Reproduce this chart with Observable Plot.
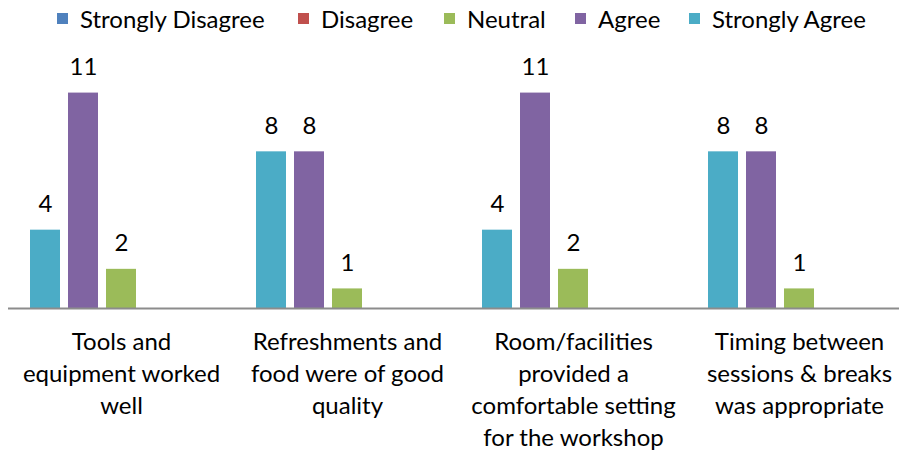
<!DOCTYPE html>
<html>
<head>
<meta charset="utf-8">
<script src="https://cdn.jsdelivr.net/npm/d3@7"></script>
<script src="https://cdn.jsdelivr.net/npm/@observablehq/plot@0.6"></script>
<style>
  html, body { margin: 0; padding: 0; background: #fff; }
  body { width: 899px; height: 458px; overflow: hidden; font-family: Lato, "Open Sans", sans-serif; }
  #legend { position: relative; height: 36px; width: 899px; }
  .item { position: absolute; top: 0; height: 36px; display: flex; align-items: center; font-size: 24px; color: #000; white-space: nowrap; }
  .sw { width: 11px; height: 11px; margin-right: 12px; display: inline-block; }
  #chart { width: 899px; overflow: hidden; }
</style>
</head>
<body>
<div id="legend"></div>
<div id="chart"></div>
<script>
const categories = [
  "Tools and\nequipment worked\nwell",
  "Refreshments and\nfood were of good\nquality",
  "Room/facilities\nprovided a\ncomfortable setting\nfor the workshop",
  "Timing between\nsessions & breaks\nwas appropriate"
];
const responses = ["Strongly Disagree", "Disagree", "Neutral", "Agree", "Strongly Agree"];
const barOrder = ["Strongly Agree", "Agree", "Neutral", "Disagree", "Strongly Disagree"];
const colors = ["#4F81BD", "#C0504D", "#9BBB59", "#8064A2", "#4BACC6"];
const stronglyDisagree = [0, 0, 0, 0];
const disagree = [0, 0, 0, 0];
const neutral = [2, 1, 2, 1];
const agree = [11, 8, 11, 8];
const stronglyAgree = [4, 8, 4, 8];
const legendX = [57, 298, 444, 575, 689];

const series = [stronglyDisagree, disagree, neutral, agree, stronglyAgree];
const data = [];
categories.forEach((c, i) => {
  responses.forEach((r, j) => data.push({category: c, response: r, value: series[j][i]}));
});

// legend
const leg = document.getElementById("legend");
responses.forEach((r, j) => {
  const d = document.createElement("div");
  d.className = "item";
  d.style.left = legendX[j] + "px";
  d.innerHTML = `<span class="sw" style="background:${colors[j]}"></span><span>${r}</span>`;
  leg.appendChild(d);
});

const chart = Plot.plot({
  width: 912,
  height: 422,
  marginLeft: 8,
  marginRight: 0,
  marginTop: 37,
  marginBottom: 150,
  style: {fontFamily: "Lato, 'Open Sans', sans-serif", fontSize: "24px", color: "#000", background: "#fff", maxWidth: "none"},
  fx: {domain: categories, padding: 0, axis: null},
  x: {domain: barOrder, paddingInner: 0.2, paddingOuter: 0.57, axis: null},
  y: {domain: [0, 12], axis: null},
  color: {domain: responses, range: colors},
  marks: [
    Plot.barY(data, {fx: "category", x: "response", y: "value", fill: "response"}),
    Plot.ruleY([0], {stroke: "#8c8c8c", strokeWidth: 2}),
    Plot.text(data.filter(d => d.value > 0), {
      fx: "category", x: "response", y: "value", text: d => String(d.value),
      dy: -26, lineAnchor: "middle", fontSize: 24, fill: "#000"
    }),
    Plot.axisFx({anchor: "bottom", tickSize: 0, tickPadding: 19, fontSize: 24, lineHeight: 1.33, textOverflow: null, lineWidth: 30, label: null, fill: "#000"})
  ]
});
document.getElementById("chart").appendChild(chart);
</script>
</body>
</html>
